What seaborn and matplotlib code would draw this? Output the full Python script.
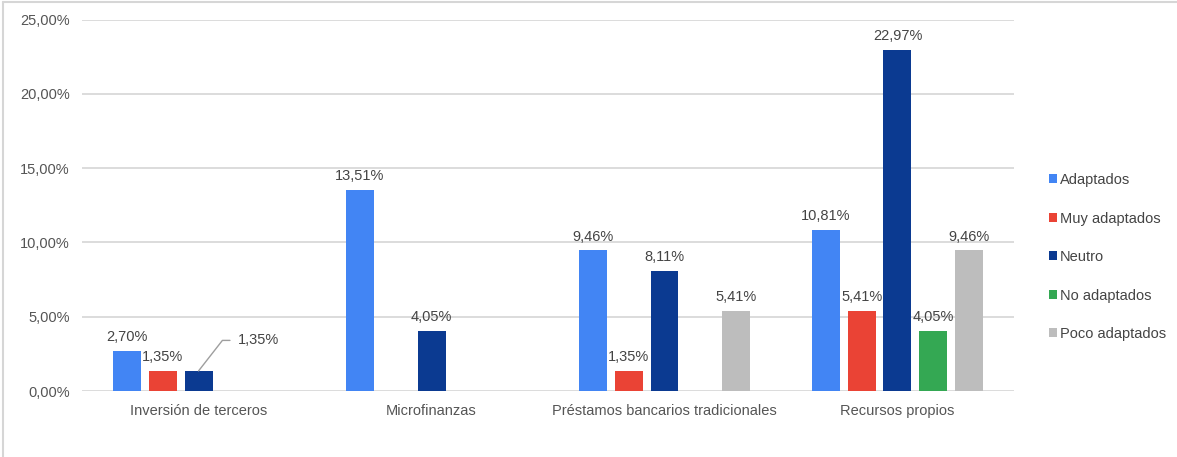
import pandas as pd
import matplotlib
matplotlib.use("Agg")
import matplotlib.pyplot as plt
from matplotlib.lines import Line2D
from matplotlib.patches import Patch
import seaborn as sns

# Datos
categorias = ["Inversión de terceros", "Microfinanzas",
              "Préstamos bancarios tradicionales", "Recursos propios"]
series = ["Adaptados", "Muy adaptados", "Neutro", "No adaptados", "Poco adaptados"]
adaptados = [2.70, 13.51, 9.46, 10.81]
muy_adaptados = [1.35, 0, 1.35, 5.41]
neutro = [1.35, 4.05, 8.11, 22.97]
no_adaptados = [0, 0, 0, 4.05]
poco_adaptados = [0, 0, 5.41, 9.46]
y_ticks = [0, 5, 10, 15, 20, 25]

colores = ["#4285F4", "#EA4335", "#0B3A91", "#34A853", "#BDBDBD"]

valores = [adaptados, muy_adaptados, neutro, no_adaptados, poco_adaptados]
filas = []
for s, vals in zip(series, valores):
    for c, v in zip(categorias, vals):
        filas.append({"categoria": c, "serie": s, "valor": v})
df = pd.DataFrame(filas)


def fmt(v):
    return f"{v:.2f}".replace(".", ",") + "%"


sns.set_style("white")
plt.rcParams["font.family"] = ["Liberation Sans", "DejaVu Sans"]

fig = plt.figure(figsize=(11.77, 4.57), dpi=100)
ax = fig.add_axes([0.0697, 0.1444, 0.7918, 0.8126])

sns.barplot(data=df, x="categoria", y="valor", hue="serie", order=categorias,
            hue_order=series, palette=colores, saturation=1, width=0.77, gap=0.22,
            linewidth=0, ax=ax, legend=False)

ax.set_ylim(0, 25)
ax.set_xlim(-0.5, 3.5)
ax.set_yticks(y_ticks)
ax.set_yticklabels([fmt(t) for t in y_ticks])
ax.set_xlabel("")
ax.set_ylabel("")
ax.yaxis.grid(True, color="#d9d9d9", linewidth=1.3)
ax.xaxis.grid(False)
ax.set_axisbelow(True)
for sp in ax.spines.values():
    sp.set_visible(False)
ax.tick_params(axis="both", length=0, labelsize=10.5, labelcolor="#555555")
ax.tick_params(axis="y", pad=9)
ax.tick_params(axis="x", pad=9)

# etiquetas de datos
for i, cont in enumerate(ax.containers):
    labels = []
    for j, v in enumerate(valores[i]):
        if v == 0 or (i == 2 and j == 0):
            labels.append("")
        else:
            labels.append(fmt(v))
    ax.bar_label(cont, labels=labels, padding=5, fontsize=10.5, color="#444444")

# etiqueta con línea guía (Neutro, Inversión de terceros)
p = ax.containers[2][0]
ax.annotate(fmt(neutro[0]), xy=(p.get_x() + p.get_width() / 2, p.get_height()),
            xytext=(28, 22), textcoords="offset points", ha="left", va="center",
            fontsize=10.5, color="#444444",
            arrowprops=dict(arrowstyle="-", color="#9e9e9e", lw=1,
                            connectionstyle="angle,angleA=0,angleB=52,rad=0",
                            relpos=(0, 0.5), shrinkA=3, shrinkB=0))

# leyenda
handles = [Patch(facecolor=c, edgecolor="none") for c in colores]
fig.legend(handles, series, loc="center left", bbox_to_anchor=(0.885, 0.4376),
           bbox_transform=fig.transFigure, frameon=False, fontsize=10.5,
           labelcolor="#444444", handlelength=0.55, handleheight=0.55,
           handletextpad=0.2, labelspacing=1.68, borderpad=0)

# borde de la figura
fig.add_artist(Line2D([2.5 / 1177, 2.5 / 1177], [0, 1 - 1.5 / 457],
                      color="#d6d6d6", linewidth=1.5, transform=fig.transFigure))
fig.add_artist(Line2D([2.5 / 1177, 1], [1 - 1.5 / 457, 1 - 1.5 / 457],
                      color="#d6d6d6", linewidth=1.5, transform=fig.transFigure))

fig.savefig("out.png", dpi=100)
